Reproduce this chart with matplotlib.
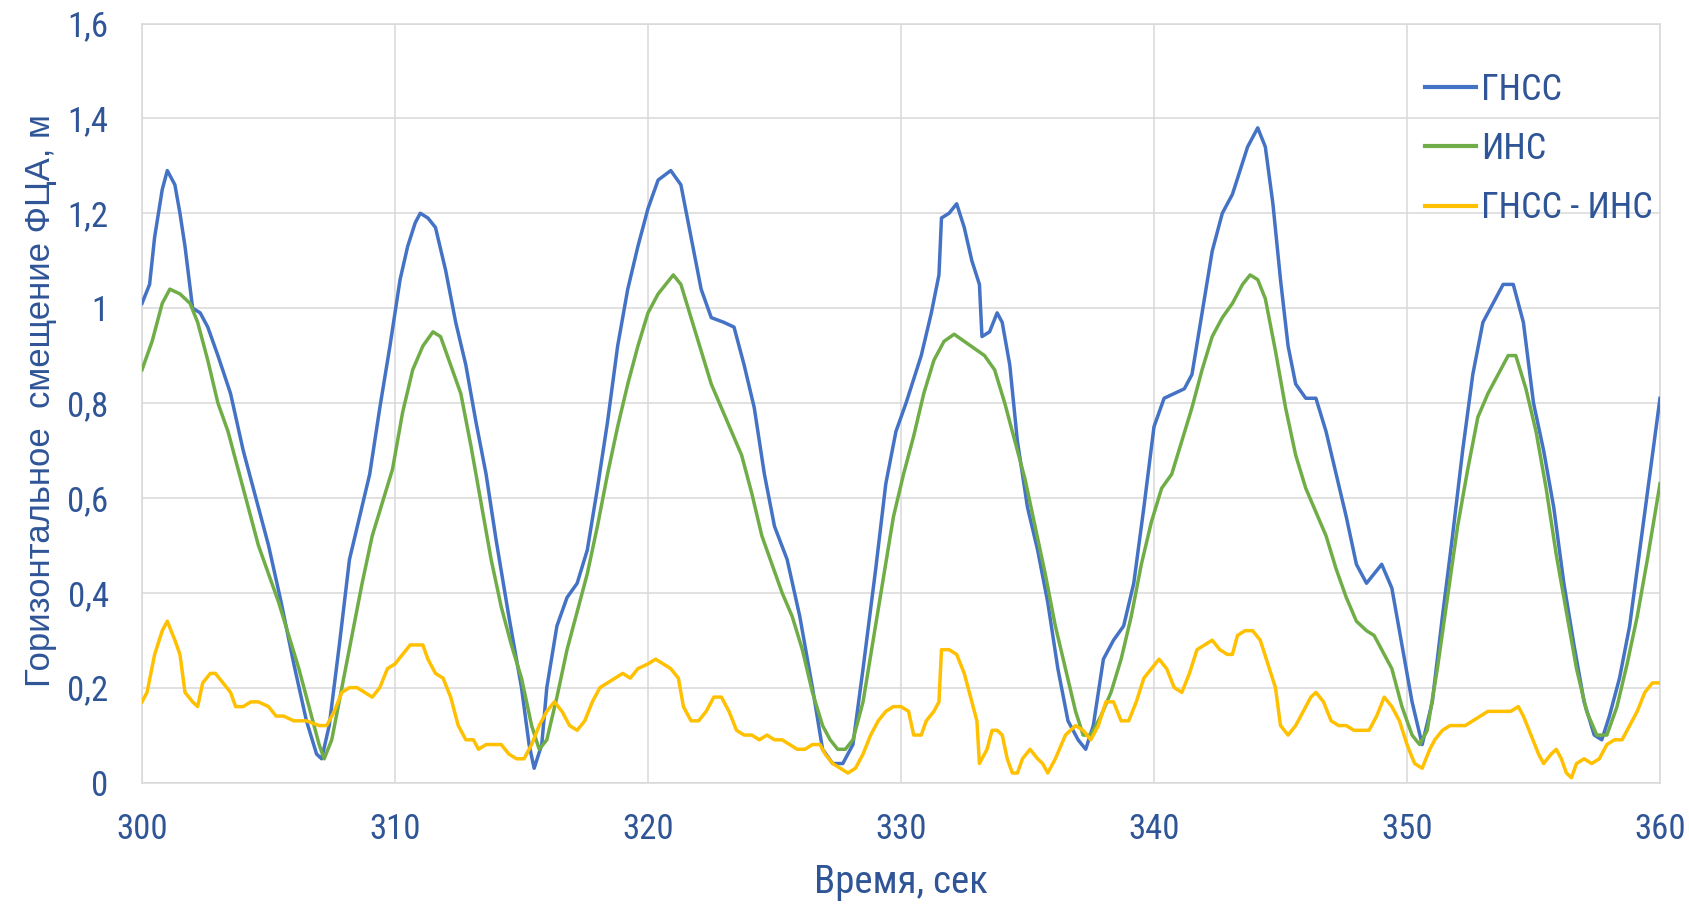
import matplotlib
matplotlib.use("Agg")
import matplotlib.pyplot as plt
from matplotlib import font_manager
from matplotlib.font_manager import FontProperties
from matplotlib.ticker import FixedLocator, FuncFormatter

# ---------------- data ----------------
gnss_t = [300.0, 300.3, 300.5, 300.8, 301.0, 301.3, 301.5, 301.7, 302.0, 302.3, 302.6, 303.0,
          303.5, 304.0, 304.5, 305.0, 305.5, 306.0, 306.5, 306.9, 307.1, 307.4, 307.8, 308.2,
          308.6, 309.0, 309.4, 309.8, 310.2, 310.5, 310.8, 311.0, 311.3, 311.6, 312.0, 312.4,
          312.8, 313.2, 313.6, 314.0, 314.5, 315.0, 315.3, 315.5, 315.8, 316.0, 316.4, 316.8,
          317.2, 317.6, 318.0, 318.4, 318.8, 319.2, 319.6, 320.0, 320.4, 320.9, 321.3, 321.7,
          322.1, 322.5, 323.0, 323.4, 323.8, 324.2, 324.6, 325.0, 325.5, 326.0, 326.5, 326.9,
          327.3, 327.7, 328.1, 328.5, 329.0, 329.4, 329.8, 330.2, 330.5, 330.8, 331.2, 331.5,
          331.6, 331.9, 332.2, 332.5, 332.8, 333.1, 333.2, 333.5, 333.8, 334.0, 334.3, 334.6,
          335.0, 335.4, 335.8, 336.2, 336.6, 337.0, 337.3, 337.6, 338.0, 338.4, 338.8, 339.2,
          339.6, 340.0, 340.4, 340.8, 341.2, 341.5, 341.9, 342.3, 342.7, 343.1, 343.4, 343.7,
          344.1, 344.4, 344.7, 345.0, 345.3, 345.6, 346.0, 346.4, 346.8, 347.2, 347.6, 348.0,
          348.4, 348.7, 349.0, 349.4, 349.8, 350.2, 350.6, 351.0, 351.4, 351.8, 352.2, 352.6,
          353.0, 353.4, 353.8, 354.2, 354.6, 355.0, 355.4, 355.8, 356.2, 356.6, 357.0, 357.4,
          357.7, 358.0, 358.4, 358.8, 359.2, 359.6, 360.0]
gnss_v = [1.01, 1.05, 1.15, 1.25, 1.29, 1.26, 1.20, 1.13, 1.00, 0.99, 0.96, 0.90,
          0.82, 0.70, 0.60, 0.50, 0.38, 0.25, 0.13, 0.06, 0.05, 0.12, 0.29, 0.47,
          0.56, 0.65, 0.79, 0.92, 1.06, 1.13, 1.18, 1.20, 1.19, 1.17, 1.08, 0.97,
          0.88, 0.76, 0.65, 0.51, 0.35, 0.20, 0.08, 0.03, 0.08, 0.20, 0.33, 0.39,
          0.42, 0.49, 0.62, 0.76, 0.92, 1.04, 1.13, 1.21, 1.27, 1.29, 1.26, 1.15,
          1.04, 0.98, 0.97, 0.96, 0.88, 0.79, 0.65, 0.54, 0.47, 0.35, 0.20, 0.07,
          0.04, 0.04, 0.08, 0.24, 0.45, 0.63, 0.74, 0.80, 0.85, 0.90, 0.99, 1.07,
          1.19, 1.20, 1.22, 1.17, 1.10, 1.05, 0.94, 0.95, 0.99, 0.97, 0.88, 0.72,
          0.58, 0.49, 0.38, 0.24, 0.13, 0.09, 0.07, 0.12, 0.26, 0.30, 0.33, 0.42,
          0.58, 0.75, 0.81, 0.82, 0.83, 0.86, 0.99, 1.12, 1.20, 1.24, 1.29, 1.34,
          1.38, 1.34, 1.22, 1.06, 0.92, 0.84, 0.81, 0.81, 0.74, 0.65, 0.56, 0.46,
          0.42, 0.44, 0.46, 0.41, 0.29, 0.17, 0.08, 0.17, 0.35, 0.52, 0.70, 0.86,
          0.97, 1.01, 1.05, 1.05, 0.97, 0.80, 0.70, 0.58, 0.42, 0.29, 0.17, 0.10,
          0.09, 0.14, 0.22, 0.33, 0.49, 0.65, 0.81]

ins_t = [300.0, 300.4, 300.8, 301.1, 301.5, 301.9, 302.2, 302.6, 303.0, 303.4, 303.8, 304.2,
         304.6, 305.0, 305.4, 305.8, 306.2, 306.6, 307.0, 307.2, 307.5, 307.9, 308.3, 308.7,
         309.1, 309.5, 309.9, 310.3, 310.7, 311.1, 311.5, 311.8, 312.2, 312.6, 313.0, 313.4,
         313.8, 314.2, 314.6, 315.0, 315.4, 315.7, 316.0, 316.4, 316.8, 317.2, 317.6, 318.0,
         318.4, 318.8, 319.2, 319.6, 320.0, 320.4, 320.7, 321.0, 321.3, 321.7, 322.1, 322.5,
         322.9, 323.3, 323.7, 324.1, 324.5, 324.9, 325.3, 325.7, 326.1, 326.5, 326.9, 327.2,
         327.5, 327.8, 328.1, 328.5, 328.9, 329.3, 329.7, 330.1, 330.5, 330.9, 331.3, 331.7,
         332.1, 332.5, 332.9, 333.3, 333.7, 334.1, 334.5, 334.9, 335.3, 335.7, 336.1, 336.5,
         336.9, 337.2, 337.5, 337.9, 338.3, 338.7, 339.1, 339.5, 339.9, 340.3, 340.7, 341.1,
         341.5, 341.9, 342.3, 342.7, 343.1, 343.5, 343.8, 344.1, 344.4, 344.8, 345.2, 345.6,
         346.0, 346.4, 346.8, 347.2, 347.6, 348.0, 348.4, 348.7, 349.0, 349.4, 349.8, 350.2,
         350.5, 350.8, 351.2, 351.6, 352.0, 352.4, 352.8, 353.2, 353.6, 354.0, 354.3, 354.7,
         355.1, 355.5, 355.9, 356.3, 356.7, 357.1, 357.5, 357.9, 358.3, 358.7, 359.1, 359.5,
         360.0]
ins_v = [0.87, 0.93, 1.01, 1.04, 1.03, 1.01, 0.97, 0.89, 0.80, 0.74, 0.66, 0.58,
         0.50, 0.44, 0.38, 0.31, 0.24, 0.16, 0.08, 0.05, 0.09, 0.20, 0.31, 0.42,
         0.52, 0.59, 0.66, 0.78, 0.87, 0.92, 0.95, 0.94, 0.88, 0.82, 0.71, 0.59,
         0.47, 0.37, 0.29, 0.22, 0.12, 0.07, 0.09, 0.18, 0.28, 0.36, 0.44, 0.54,
         0.65, 0.75, 0.84, 0.92, 0.99, 1.03, 1.05, 1.07, 1.05, 0.98, 0.91, 0.84,
         0.79, 0.74, 0.69, 0.61, 0.52, 0.46, 0.40, 0.35, 0.28, 0.19, 0.12, 0.09,
         0.07, 0.07, 0.09, 0.17, 0.30, 0.43, 0.56, 0.65, 0.73, 0.82, 0.89, 0.93,
         0.945, 0.93, 0.915, 0.90, 0.87, 0.80, 0.72, 0.64, 0.54, 0.44, 0.33, 0.24,
         0.15, 0.10, 0.10, 0.14, 0.19, 0.26, 0.35, 0.46, 0.55, 0.62, 0.65, 0.72,
         0.79, 0.87, 0.94, 0.98, 1.01, 1.05, 1.07, 1.06, 1.02, 0.91, 0.79, 0.69,
         0.62, 0.57, 0.52, 0.45, 0.39, 0.34, 0.32, 0.31, 0.28, 0.24, 0.16, 0.10,
         0.08, 0.11, 0.24, 0.39, 0.54, 0.66, 0.77, 0.82, 0.86, 0.90, 0.90, 0.83,
         0.74, 0.62, 0.48, 0.36, 0.24, 0.15, 0.10, 0.10, 0.16, 0.25, 0.35, 0.47,
         0.63]

diff_t = [300.0, 300.2, 300.5, 300.8, 301.0, 301.3, 301.5, 301.7, 302.0, 302.2, 302.4, 302.7,
          302.9, 303.2, 303.5, 303.7, 304.0, 304.3, 304.6, 305.0, 305.3, 305.6, 306.0, 306.5,
          307.0, 307.3, 307.6, 307.9, 308.2, 308.5, 308.8, 309.1, 309.4, 309.7, 310.0, 310.3,
          310.6, 310.9, 311.1, 311.3, 311.6, 311.9, 312.2, 312.5, 312.8, 313.1, 313.3, 313.6,
          313.9, 314.2, 314.5, 314.8, 315.1, 315.4, 315.7, 316.0, 316.3, 316.6, 316.9, 317.2,
          317.5, 317.8, 318.1, 318.4, 318.7, 319.0, 319.3, 319.6, 320.0, 320.3, 320.6, 320.9,
          321.2, 321.4, 321.7, 322.0, 322.3, 322.6, 322.9, 323.2, 323.5, 323.8, 324.1, 324.4,
          324.7, 325.0, 325.3, 325.6, 325.9, 326.2, 326.5, 326.8, 327.0, 327.3, 327.6, 327.9,
          328.2, 328.5, 328.8, 329.1, 329.4, 329.7, 330.0, 330.3, 330.5, 330.8, 331.0, 331.3,
          331.5, 331.6, 331.9, 332.2, 332.5, 332.8, 333.0, 333.1, 333.4, 333.6, 333.8, 334.0,
          334.2, 334.4, 334.6, 334.8, 335.1, 335.4, 335.6, 335.8, 336.1, 336.5, 336.9, 337.2,
          337.5, 337.8, 338.1, 338.4, 338.7, 339.0, 339.3, 339.6, 339.9, 340.2, 340.5, 340.8,
          341.1, 341.4, 341.7, 342.0, 342.3, 342.6, 342.9, 343.1, 343.3, 343.6, 343.9, 344.2,
          344.5, 344.8, 345.0, 345.3, 345.6, 345.9, 346.2, 346.4, 346.7, 347.0, 347.3, 347.6,
          347.9, 348.2, 348.5, 348.8, 349.1, 349.4, 349.7, 350.0, 350.3, 350.6, 350.9, 351.1,
          351.4, 351.7, 352.0, 352.3, 352.6, 352.9, 353.2, 353.5, 353.8, 354.1, 354.4, 354.6,
          354.9, 355.2, 355.4, 355.7, 355.9, 356.1, 356.3, 356.5, 356.7, 357.0, 357.3, 357.6,
          357.9, 358.2, 358.5, 358.8, 359.1, 359.4, 359.7, 360.0]
diff_v = [0.17, 0.19, 0.27, 0.32, 0.34, 0.30, 0.27, 0.19, 0.17, 0.16, 0.21, 0.23,
          0.23, 0.21, 0.19, 0.16, 0.16, 0.17, 0.17, 0.16, 0.14, 0.14, 0.13, 0.13,
          0.12, 0.12, 0.15, 0.19, 0.20, 0.20, 0.19, 0.18, 0.20, 0.24, 0.25, 0.27,
          0.29, 0.29, 0.29, 0.26, 0.23, 0.22, 0.18, 0.12, 0.09, 0.09, 0.07, 0.08,
          0.08, 0.08, 0.06, 0.05, 0.05, 0.08, 0.12, 0.15, 0.17, 0.15, 0.12, 0.11,
          0.13, 0.17, 0.20, 0.21, 0.22, 0.23, 0.22, 0.24, 0.25, 0.26, 0.25, 0.24,
          0.22, 0.16, 0.13, 0.13, 0.15, 0.18, 0.18, 0.15, 0.11, 0.10, 0.10, 0.09,
          0.10, 0.09, 0.09, 0.08, 0.07, 0.07, 0.08, 0.08, 0.06, 0.04, 0.03, 0.02,
          0.03, 0.06, 0.10, 0.13, 0.15, 0.16, 0.16, 0.15, 0.10, 0.10, 0.13, 0.15,
          0.17, 0.28, 0.28, 0.27, 0.23, 0.17, 0.13, 0.04, 0.07, 0.11, 0.11, 0.10,
          0.05, 0.02, 0.02, 0.05, 0.07, 0.05, 0.04, 0.02, 0.05, 0.10, 0.12, 0.11,
          0.09, 0.12, 0.17, 0.17, 0.13, 0.13, 0.17, 0.22, 0.24, 0.26, 0.24, 0.20,
          0.19, 0.23, 0.28, 0.29, 0.30, 0.28, 0.27, 0.27, 0.31, 0.32, 0.32, 0.30,
          0.25, 0.20, 0.12, 0.10, 0.12, 0.15, 0.18, 0.19, 0.17, 0.13, 0.12, 0.12,
          0.11, 0.11, 0.11, 0.14, 0.18, 0.16, 0.13, 0.08, 0.04, 0.03, 0.07, 0.09,
          0.11, 0.12, 0.12, 0.12, 0.13, 0.14, 0.15, 0.15, 0.15, 0.15, 0.16, 0.14,
          0.10, 0.06, 0.04, 0.06, 0.07, 0.05, 0.02, 0.01, 0.04, 0.05, 0.04, 0.05,
          0.08, 0.09, 0.09, 0.12, 0.15, 0.19, 0.21, 0.21]

series_names = ["ГНСС", "ИНС", "ГНСС - ИНС"]
x_ticks = [300, 310, 320, 330, 340, 350, 360]
y_ticks = [0, 0.2, 0.4, 0.6, 0.8, 1.0, 1.2, 1.4, 1.6]
x_label = "Время, сек"
y_label = "Горизонтальное  смещение ФЦА, м"

# ---------------- fonts ----------------
ttf = font_manager.fontManager.ttflist
names = {f.name for f in ttf}
narrow_fp = None
for fam in ["Liberation Sans Narrow", "Arial Narrow", "Roboto Condensed",
            "Open Sans Condensed", "Noto Sans Condensed", "DejaVu Sans Condensed"]:
    if fam in names:
        narrow_fp = FontProperties(family=fam)
        break
if narrow_fp is None:
    pick = None
    for key in ["LiberationSansNarrow-Regular", "RobotoCondensed-Regular",
                "DejaVuSansCondensed.ttf", "NotoSans-Condensed.ttf",
                "NotoSans-CondensedRegular", "OpenSans_Condensed-Regular",
                "OpenSans-CondensedRegular", "Roboto_Condensed-Regular"]:
        for f in ttf:
            if key.lower() in f.fname.lower():
                pick = f.fname
                break
        if pick:
            break
    if pick is None:
        for f in ttf:
            fn = f.fname.lower()
            if ("condensed" in fn or "narrow" in fn) and "bold" not in fn \
                    and "italic" not in fn and "light" not in fn and "oblique" not in fn \
                    and "medium" not in fn and "semi" not in fn and "extra" not in fn \
                    and "black" not in fn and "thin" not in fn:
                pick = f.fname
                break
    narrow_fp = FontProperties(fname=pick) if pick else FontProperties(family="Roboto")


def nfp(size):
    p = narrow_fp.copy()
    p.set_size(size)
    return p


text_col = "#2F5597"
grid_col = "#D9D9D9"
colors = ["#4472C4", "#70AD47", "#FFC000"]

fig = plt.figure(figsize=(16.9, 9.05), dpi=100)
L, R, T, B = 142, 1660, 23.5, 782.5
ax = fig.add_axes([L / 1690, 1 - B / 905, (R - L) / 1690, (B - T) / 905])

ax.plot(gnss_t, gnss_v, color=colors[0], lw=2.5, label=series_names[0], zorder=3,
        solid_joinstyle="round")
ax.plot(ins_t, ins_v, color=colors[1], lw=2.5, label=series_names[1], zorder=3,
        solid_joinstyle="round")
ax.plot(diff_t, diff_v, color=colors[2], lw=2.5, label=series_names[2], zorder=3,
        solid_joinstyle="round")

ax.set_xlim(300, 360)
ax.set_ylim(0, 1.6)
ax.xaxis.set_major_locator(FixedLocator(x_ticks))
ax.yaxis.set_major_locator(FixedLocator(y_ticks))


def fmt(v, pos):
    s = f"{v:.1f}".rstrip("0").rstrip(".")
    return s.replace(".", ",")


ax.yaxis.set_major_formatter(FuncFormatter(fmt))
ax.grid(True, color=grid_col, lw=1.1, zorder=0)
for sp in ax.spines.values():
    sp.set_color(grid_col)
    sp.set_linewidth(1.1)
ax.tick_params(axis="both", length=0, colors=text_col)
ax.tick_params(axis="x", pad=22)
ax.tick_params(axis="y", pad=24)
for lab in ax.get_xticklabels() + ax.get_yticklabels():
    lab.set_fontproperties(nfp(25))

ax.set_xlabel(x_label, color=text_col, fontproperties=nfp(28))
ax.xaxis.set_label_coords(0.5, -0.132)
ax.xaxis.label.set_va("center")
ax.set_ylabel(y_label, fontsize=25, color=text_col, fontfamily="Liberation Sans")
ax.yaxis.set_label_coords(-0.067, 0.503)
ax.yaxis.label.set_va("center")

leg = ax.legend(loc="upper left", bbox_to_anchor=(1425 / 1690, 1 - 72 / 905),
                bbox_transform=fig.transFigure, frameon=False,
                prop=nfp(26), handlelength=1.4,
                handletextpad=0.15, labelspacing=0.64, borderpad=0, borderaxespad=0)
for t in leg.get_texts():
    t.set_color(text_col)
for h in leg.get_lines():
    h.set_linewidth(3.0)

fig.savefig("out.png", dpi=100)
